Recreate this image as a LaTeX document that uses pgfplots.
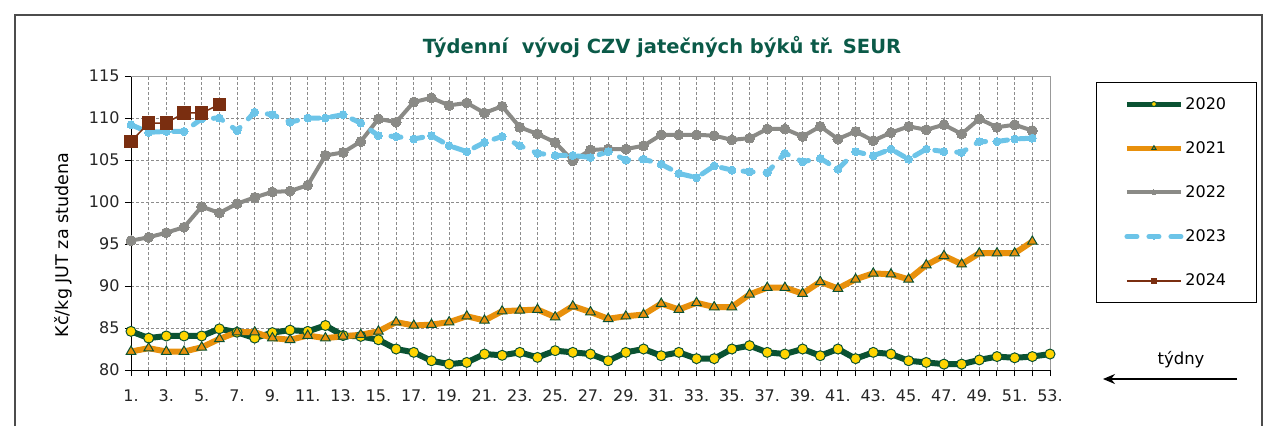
\documentclass[border=0pt]{standalone}
\usepackage{fontspec}
\setmainfont{DejaVu Sans}
\usepackage{pgfplots}
\usepackage{pgfplotstable}
\pgfplotsset{compat=1.18}
\usetikzlibrary{arrows.meta}

\definecolor{c20}{HTML}{0A5232}
\definecolor{c20m}{HTML}{FFD400}
\definecolor{c21}{HTML}{E8900C}
\definecolor{c22}{HTML}{8A8A86}
\definecolor{c23}{HTML}{6CC4E8}
\definecolor{c24}{HTML}{7A2E10}
\definecolor{ctitle}{HTML}{0B5A48}

\pgfplotstableread{
w v
1 84.6
2 83.8
3 84.05
4 84.05
5 84.05
6 84.9
7 84.5
8 83.8
9 84.45
10 84.75
11 84.6
12 85.3
13 84.1
14 84.0
15 83.6
16 82.5
17 82.1
18 81.1
19 80.7
20 80.9
21 81.9
22 81.75
23 82.1
24 81.5
25 82.3
26 82.1
27 81.9
28 81.1
29 82.1
30 82.5
31 81.7
32 82.1
33 81.35
34 81.35
35 82.5
36 82.9
37 82.1
38 81.9
39 82.5
40 81.7
41 82.5
42 81.35
43 82.1
44 81.9
45 81.1
46 80.9
47 80.7
48 80.7
49 81.2
50 81.6
51 81.45
52 81.6
53 81.9
}\tA

\pgfplotstableread{
w v
1 82.2
2 82.6
3 82.2
4 82.2
5 82.7
6 83.7
7 84.5
8 84.5
9 83.8
10 83.6
11 84.1
12 83.8
13 84.0
14 84.2
15 84.6
16 85.7
17 85.3
18 85.4
19 85.7
20 86.4
21 85.9
22 87.0
23 87.1
24 87.2
25 86.3
26 87.6
27 86.9
28 86.1
29 86.4
30 86.6
31 87.9
32 87.2
33 88.0
34 87.5
35 87.5
36 89.0
37 89.8
38 89.8
39 89.1
40 90.5
41 89.7
42 90.8
43 91.5
44 91.4
45 90.8
46 92.5
47 93.6
48 92.6
49 93.9
50 93.9
51 93.9
52 95.3
}\tB

\pgfplotstableread{
w v
1 95.4
2 95.8
3 96.35
4 97.0
5 99.45
6 98.7
7 99.8
8 100.55
9 101.2
10 101.3
11 102.0
12 105.55
13 105.9
14 107.2
15 109.9
16 109.5
17 111.9
18 112.4
19 111.5
20 111.8
21 110.6
22 111.4
23 108.9
24 108.1
25 107.1
26 104.9
27 106.2
28 106.3
29 106.3
30 106.7
31 108.0
32 108.0
33 108.0
34 107.9
35 107.4
36 107.6
37 108.7
38 108.7
39 107.8
40 109.0
41 107.5
42 108.4
43 107.3
44 108.25
45 109.0
46 108.6
47 109.2
48 108.1
49 109.9
50 108.9
51 109.2
52 108.5
}\tC

\pgfplotstableread{
w v
1 109.2
2 108.3
3 108.4
4 108.4
5 109.9
6 110.0
7 108.5
8 110.7
9 110.4
10 109.5
11 110.0
12 110.0
13 110.4
14 109.4
15 107.9
16 107.8
17 107.5
18 107.9
19 106.7
20 106.0
21 107.1
22 107.8
23 106.7
24 105.8
25 105.55
26 105.55
27 105.3
28 106.0
29 105.0
30 105.1
31 104.5
32 103.4
33 102.9
34 104.3
35 103.8
36 103.6
37 103.5
38 105.8
39 104.8
40 105.2
41 103.9
42 106.0
43 105.5
44 106.3
45 105.1
46 106.3
47 106.0
48 105.9
49 107.2
50 107.2
51 107.5
52 107.6
}\tD

\pgfplotstableread{
w v
1 107.2
2 109.4
3 109.4
4 110.6
5 110.6
6 111.6
}\tE

\begin{document}
\begin{tikzpicture}[x=1pt,y=1pt]
\path (0,0) rectangle (1264,424);
\draw[black!70, line width=1.5pt] (15,-2) -- (15,409) -- (1262,409) -- (1262,-2);
\node[font=\fontsize{19.5}{23}\selectfont\bfseries, text=ctitle] at (662,377) {Týdenní\ \ vývoj CZV jatečných býků tř. SEUR};
\node[rotate=90, font=\fontsize{17.5}{21}\selectfont] at (63,179) {Kč/kg JUT za studena};
\node[font=\fontsize{16.5}{19}\selectfont] at (1181,64) {týdny};
\draw[line width=1.3pt, -{Stealth[length=12pt,width=10pt]}] (1237,45) -- (1103,45);

\begin{axis}[
  at={(131pt,54pt)}, anchor=south west,
  scale only axis, width=919pt, height=294pt,
  xmin=1, xmax=53, ymin=80, ymax=115,
  axis lines*=left,
  axis line style={black, line width=1pt},
  ytick={80,85,...,115},
  xtick={1,3,...,53},
  xticklabels={1.,3.,5.,7.,9.,11.,13.,15.,17.,19.,21.,23.,25.,27.,29.,31.,33.,35.,37.,39.,41.,43.,45.,47.,49.,51.,53.},
  minor xtick={2,4,...,52},
  grid=both,
  major grid style={densely dashed, black!45, line width=0.6pt},
  minor grid style={densely dashed, black!45, line width=0.6pt},
  tick align=outside,
  major tick length=6pt, minor tick length=6pt,
  tick style={black, line width=1pt},
  ticklabel style={font=\fontsize{16}{19}\selectfont, text=black!85},
  xticklabel style={yshift=-10pt},
  yticklabel style={xshift=-2pt},
  /pgf/number format/assume math mode=true,
  clip=false,
  legend style={at={(1.050,0.980)}, anchor=north west, draw=black, line width=1pt,
    font=\fontsize{16}{19}\selectfont, inner xsep=28pt, inner ysep=13pt, row sep=26.8pt,
    cells={anchor=west}},
  legend image code/.code={\draw[mark size=2.5pt, #1, mark repeat=2, mark phase=2] plot coordinates {(0pt,0pt) (27pt,0pt) (54pt,0pt)};},
]
\addplot[c20, line width=6pt, mark=*, mark size=5pt, mark options={fill=c20m, draw=c20, line width=1pt}, legend image post style={mark size=2.5pt, line width=5pt}] table[x=w,y=v]{\tA};
\addlegendentry{2020}
\addplot[c21, line width=6pt, mark=triangle*, mark size=5.5pt, mark options={fill=c21, draw=c20, line width=1pt}, legend image post style={mark size=3pt, line width=5pt}] table[x=w,y=v]{\tB};
\addlegendentry{2021}
\addplot[c22, line width=4pt, mark=*, mark size=5pt, mark options={fill=c22, draw=c22, line width=0pt}, legend image post style={mark size=3pt}] table[x=w,y=v]{\tC};
\addlegendentry{2022}
\addplot[c23, line width=5pt, line cap=round, dash pattern=on 10pt off 12pt, mark=*, mark size=4pt, mark options={solid, fill=c23, draw=c23, line width=0pt}, legend image post style={mark size=2.5pt}] table[x=w,y=v]{\tD};
\addlegendentry{2023}
\addplot[c24, line width=1.5pt, mark=square*, mark size=6pt, mark options={fill=c24, draw=c24}, legend image post style={mark size=4.5pt}] table[x=w,y=v]{\tE};
\addlegendentry{2024}
\draw[black!40, line width=1pt] (rel axis cs:0,1) -- (rel axis cs:1,1) -- (rel axis cs:1,0);
\end{axis}
\end{tikzpicture}
\end{document}
